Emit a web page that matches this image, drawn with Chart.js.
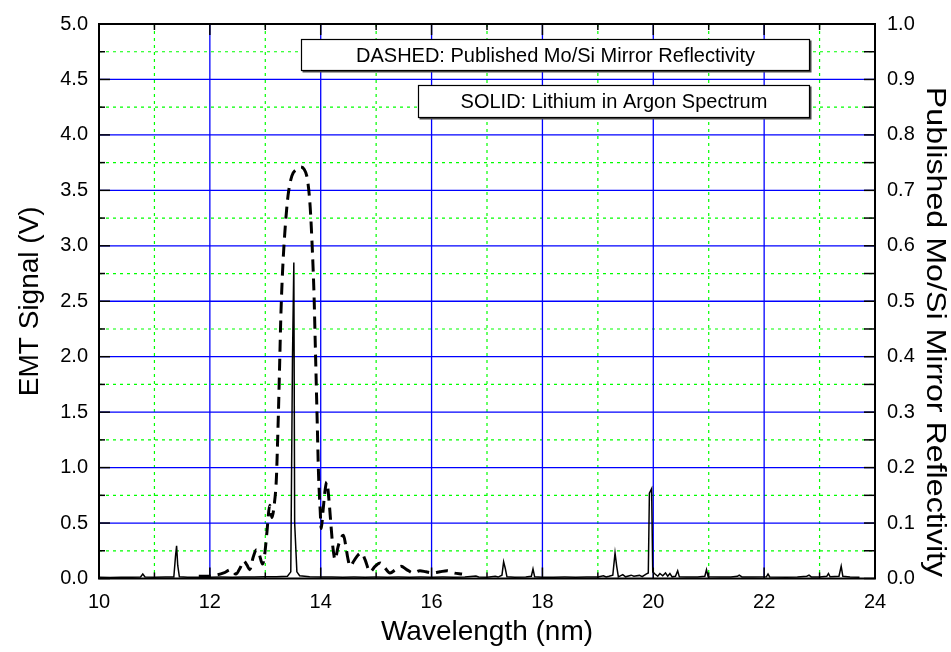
<!DOCTYPE html>
<html>
<head>
<meta charset="utf-8">
<title>Lithium in Argon Spectrum vs Mo/Si Mirror Reflectivity</title>
<script src="https://cdn.jsdelivr.net/npm/chart.js@4.4.1/dist/chart.umd.min.js"></script>
<style>
  html, body { margin: 0; padding: 0; background: #fff; }
  canvas { display: block; }
</style>
</head>
<body>
<canvas id="spectrumChart" width="951" height="652"></canvas>
<script>
// ------------------------------------------------------------
// EMT signal of a lithium-in-argon source (solid, left axis)
// overlaid with a published Mo/Si mirror reflectivity (dashed,
// right axis).
// ------------------------------------------------------------

const FONT = '"Liberation Sans", Arial, Helvetica, sans-serif';

// solid trace: wavelength (nm) and EMT signal (V)
const specLambda = [
  10.00, 10.20, 10.40, 10.60, 10.75, 10.79, 10.83, 11.00, 11.20, 11.35,
  11.38, 11.40, 11.42, 11.45, 11.60, 11.80, 12.00, 12.20, 12.40, 12.60,
  12.80, 13.00, 13.20, 13.40, 13.46, 13.49, 13.515, 13.53, 13.57, 13.62,
  13.80, 14.00, 14.20, 14.40, 14.60, 14.80, 15.00, 15.20, 15.40, 15.60,
  15.80, 16.00, 16.20, 16.40, 16.60, 16.80, 16.85, 17.00, 17.15, 17.20,
  17.27, 17.30, 17.33, 17.36, 17.50, 17.70, 17.80, 17.83, 17.86, 18.00,
  18.20, 18.40, 18.60, 18.80, 19.00, 19.10, 19.15, 19.20, 19.27, 19.31,
  19.34, 19.37, 19.45, 19.50, 19.60, 19.65, 19.75, 19.80, 19.87, 19.91,
  19.93, 19.97, 19.99, 20.03, 20.08, 20.12, 20.17, 20.22, 20.26, 20.30,
  20.34, 20.40, 20.44, 20.47, 20.60, 20.80, 20.93, 20.96, 20.99, 21.20,
  21.40, 21.52, 21.55, 21.60, 21.80, 22.04, 22.07, 22.10, 22.40, 22.60,
  22.77, 22.81, 22.85, 23.00, 23.13, 23.16, 23.19, 23.35, 23.39, 23.42,
  23.55, 23.72
];
const specSignal = [
  0.012, 0.010, 0.012, 0.011, 0.014, 0.040, 0.013, 0.012, 0.013, 0.014,
  0.200, 0.295, 0.120, 0.015, 0.012, 0.011, 0.012, 0.013, 0.012, 0.014,
  0.013, 0.015, 0.016, 0.020, 0.060, 1.960, 2.850, 0.500, 0.060, 0.025,
  0.016, 0.014, 0.013, 0.012, 0.013, 0.012, 0.013, 0.012, 0.013, 0.012,
  0.013, 0.012, 0.013, 0.012, 0.013, 0.022, 0.013, 0.012, 0.020, 0.013,
  0.030, 0.150, 0.090, 0.015, 0.012, 0.013, 0.020, 0.085, 0.015, 0.012,
  0.012, 0.013, 0.012, 0.013, 0.014, 0.025, 0.014, 0.020, 0.030, 0.230,
  0.110, 0.015, 0.035, 0.015, 0.030, 0.020, 0.028, 0.016, 0.040, 0.050,
  0.770, 0.810, 0.060, 0.040, 0.020, 0.045, 0.025, 0.050, 0.020, 0.045,
  0.015, 0.020, 0.070, 0.015, 0.013, 0.014, 0.020, 0.080, 0.015, 0.013,
  0.013, 0.020, 0.030, 0.014, 0.013, 0.015, 0.040, 0.014, 0.012, 0.013,
  0.020, 0.030, 0.014, 0.013, 0.020, 0.045, 0.015, 0.020, 0.110, 0.020,
  0.013, 0.012
];

// dashed trace: wavelength (nm) and mirror reflectivity (0..1)
const mirrorLambda = [
  11.80, 11.95, 12.10, 12.25, 12.38, 12.47, 12.55, 12.61, 12.67, 12.72,
  12.78, 12.84, 12.89, 12.95, 12.99, 13.03, 13.08, 13.12, 13.16, 13.20,
  13.22, 13.24, 13.26, 13.28, 13.31, 13.35, 13.41, 13.48, 13.56, 13.63,
  13.70, 13.76, 13.81, 13.85, 13.88, 13.90, 13.92, 13.94, 13.96, 13.99,
  14.01, 14.04, 14.08, 14.11, 14.15, 14.19, 14.22, 14.26, 14.31, 14.36,
  14.41, 14.45, 14.49, 14.53, 14.60, 14.67, 14.74, 14.80, 14.89, 14.98,
  15.07, 15.15, 15.25, 15.35, 15.45, 15.55, 15.67, 15.79, 15.90, 16.02,
  16.15, 16.28, 16.40, 16.55
];
const mirrorReflect = [
  0.004, 0.004, 0.006, 0.010, 0.016, 0.008, 0.020, 0.032, 0.024, 0.016,
  0.038, 0.052, 0.044, 0.026, 0.044, 0.084, 0.132, 0.110, 0.132, 0.180,
  0.240, 0.310, 0.390, 0.470, 0.550, 0.620, 0.690, 0.726, 0.738, 0.742,
  0.738, 0.720, 0.670, 0.590, 0.510, 0.430, 0.350, 0.270, 0.190, 0.124,
  0.090, 0.120, 0.160, 0.174, 0.140, 0.090, 0.056, 0.034, 0.056, 0.072,
  0.078, 0.060, 0.036, 0.022, 0.032, 0.042, 0.046, 0.034, 0.012, 0.022,
  0.028, 0.020, 0.010, 0.016, 0.022, 0.016, 0.010, 0.014, 0.012, 0.010,
  0.012, 0.014, 0.010, 0.008
];

// axis ticks
const xMajorTicks = [10, 12, 14, 16, 18, 20, 22, 24];
const xMinorTicks = [11, 13, 15, 17, 19, 21, 23];
const yMajorTicks = [0, 0.5, 1.0, 1.5, 2.0, 2.5, 3.0, 3.5, 4.0, 4.5, 5.0];
const yMinorTicks = [0.25, 0.75, 1.25, 1.75, 2.25, 2.75, 3.25, 3.75, 4.25, 4.75];
const y1Ticks = [0, 0.05, 0.1, 0.15, 0.2, 0.25, 0.3, 0.35, 0.4, 0.45, 0.5,
                 0.55, 0.6, 0.65, 0.7, 0.75, 0.8, 0.85, 0.9, 0.95, 1.0];

const legendNotes = [
  'DASHED: Published Mo/Si Mirror Reflectivity',
  'SOLID: Lithium in Argon Spectrum'
];
const rightTitle = 'Published Mo/Si Mirror Reflectivity';

const toPoints = (xs, ys) => xs.map((x, i) => ({ x, y: ys[i] }));

function strokeLine(ctx, x1, y1, x2, y2) {
  ctx.beginPath();
  ctx.moveTo(x1, y1);
  ctx.lineTo(x2, y2);
  ctx.stroke();
}

// Origin-style grid, inward ticks, frame and text boxes.
const originFrame = {
  id: 'originFrame',
  beforeDatasetsDraw(chart) {
    const { ctx, chartArea: a, scales: { x, y } } = chart;
    ctx.save();

    ctx.lineWidth = 1.2;
    ctx.strokeStyle = '#00ff00';
    ctx.setLineDash([3, 4]);
    xMinorTicks.forEach(v => {
      const px = x.getPixelForValue(v);
      strokeLine(ctx, px, a.top, px, a.bottom);
    });
    yMinorTicks.forEach(v => {
      const py = y.getPixelForValue(v);
      strokeLine(ctx, a.left, py, a.right, py);
    });

    ctx.setLineDash([]);
    ctx.lineWidth = 1.3;
    ctx.strokeStyle = '#0000ff';
    xMajorTicks.slice(1, -1).forEach(v => {
      const px = x.getPixelForValue(v);
      strokeLine(ctx, px, a.top, px, a.bottom);
    });
    yMajorTicks.slice(1, -1).forEach(v => {
      const py = y.getPixelForValue(v);
      strokeLine(ctx, a.left, py, a.right, py);
    });
    ctx.restore();
  },
  afterDatasetsDraw(chart) {
    const { ctx, chartArea: a, scales: { x, y, y1 } } = chart;
    const MAJOR = 11, MINOR = 6;
    ctx.save();
    ctx.strokeStyle = '#000';
    ctx.lineWidth = 2;
    ctx.strokeRect(a.left, a.top, a.right - a.left, a.bottom - a.top);

    ctx.lineWidth = 1.5;
    const xTick = (v, len) => {
      const px = x.getPixelForValue(v);
      strokeLine(ctx, px, a.bottom, px, a.bottom - len);
      strokeLine(ctx, px, a.top, px, a.top + len);
    };
    xMajorTicks.forEach(v => xTick(v, MAJOR));
    xMinorTicks.forEach(v => xTick(v, MINOR));

    yMajorTicks.forEach(v => {
      const py = y.getPixelForValue(v);
      strokeLine(ctx, a.left, py, a.left + MAJOR, py);
    });
    yMinorTicks.forEach(v => {
      const py = y.getPixelForValue(v);
      strokeLine(ctx, a.left, py, a.left + MINOR, py);
    });
    y1Ticks.forEach(v => {
      const py = y1.getPixelForValue(v);
      strokeLine(ctx, a.right, py, a.right - MAJOR, py);
    });
    ctx.restore();
  },
  afterDraw(chart) {
    const { ctx } = chart;
    const boxes = [
      { left: 301, top: 39, right: 810, bottom: 71 },
      { left: 418, top: 85, right: 810, bottom: 118 }
    ];
    ctx.save();
    ctx.font = '20px ' + FONT;
    ctx.textAlign = 'center';
    ctx.textBaseline = 'middle';
    boxes.forEach((b, i) => {
      const w = b.right - b.left, h = b.bottom - b.top;
      ctx.fillStyle = '#4a4a4a';
      ctx.fillRect(b.left + 1.5, b.top + 1.5, w, h);
      ctx.fillStyle = '#fff';
      ctx.fillRect(b.left, b.top, w, h);
      ctx.strokeStyle = '#000';
      ctx.lineWidth = 1.2;
      ctx.strokeRect(b.left + 0.5, b.top + 0.5, w - 1, h - 1);
      ctx.fillStyle = '#000';
      ctx.fillText(legendNotes[i], (b.left + b.right) / 2, (b.top + b.bottom) / 2 + 1);
    });

    // right axis title, drawn top-to-bottom and a little stretched like the original
    ctx.translate(935, 332);
    ctx.rotate(Math.PI / 2);
    ctx.scale(1.15, 1);
    ctx.font = '28px ' + FONT;
    ctx.fillText(rightTitle, 0, 0);
    ctx.restore();
  }
};

const tickFont = { family: FONT, size: 20 };
const titleFont = { family: FONT, size: 28 };

new Chart(document.getElementById('spectrumChart'), {
  type: 'line',
  data: {
    datasets: [
      {
        label: 'Lithium in Argon Spectrum',
        data: toPoints(specLambda, specSignal),
        yAxisID: 'y',
        borderColor: '#000',
        borderWidth: 1.5,
        pointRadius: 0,
        tension: 0
      },
      {
        label: 'Published Mo/Si Mirror Reflectivity',
        data: toPoints(mirrorLambda, mirrorReflect),
        yAxisID: 'y1',
        borderColor: '#000',
        borderWidth: 3,
        borderDash: [12, 7],
        pointRadius: 0,
        cubicInterpolationMode: 'monotone'
      }
    ]
  },
  options: {
    responsive: false,
    animation: false,
    events: [],
    layout: { padding: { top: 23, left: 0, right: 0, bottom: 0 } },
    plugins: { legend: { display: false }, tooltip: { enabled: false } },
    scales: {
      x: {
        type: 'linear',
        position: 'bottom',
        min: 10,
        max: 24,
        grid: { display: false, drawTicks: false },
        border: { display: false },
        ticks: { stepSize: 2, color: '#000', font: tickFont, padding: 12, maxRotation: 0, autoSkip: false },
        title: { display: true, text: 'Wavelength (nm)', color: '#000', font: titleFont, padding: { top: 0, bottom: 3 } },
        afterFit(scale) { scale.height = 73.5; }
      },
      y: {
        type: 'linear',
        position: 'left',
        min: 0,
        max: 5,
        grid: { display: false, drawTicks: false },
        border: { display: false },
        ticks: { stepSize: 0.5, color: '#000', font: tickFont, padding: 11, callback: v => v.toFixed(1) },
        title: { display: true, text: 'EMT Signal (V)', color: '#000', font: titleFont, padding: { top: 13, bottom: 0 } },
        afterFit(scale) { scale.width = 99; }
      },
      y1: {
        type: 'linear',
        position: 'right',
        min: 0,
        max: 1,
        grid: { display: false, drawTicks: false },
        border: { display: false },
        ticks: { stepSize: 0.1, color: '#000', font: tickFont, padding: 12, callback: v => v.toFixed(1) },
        afterFit(scale) { scale.width = 76; }
      }
    }
  },
  plugins: [originFrame]
});
</script>
</body>
</html>
